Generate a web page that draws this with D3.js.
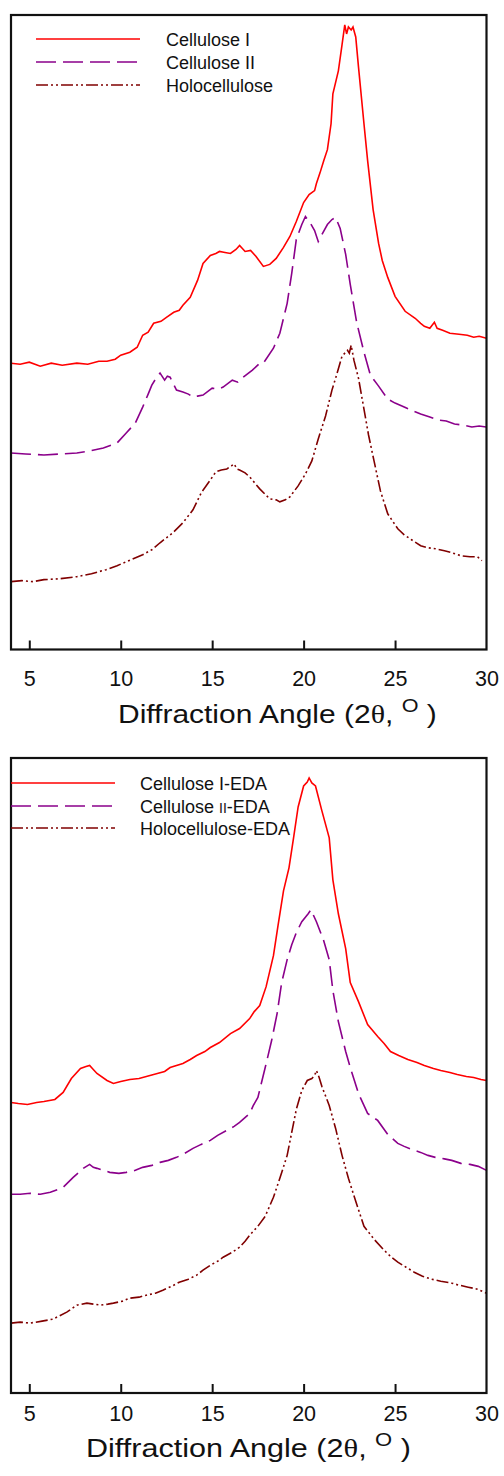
<!DOCTYPE html>
<html>
<head>
<meta charset="utf-8">
<script src="https://cdn.jsdelivr.net/npm/d3@7"></script>
<style>
  body { margin: 0; background: #fff; }
  svg { display: block; }
</style>
</head>
<body>
<div id="chart"></div>
<script>
// x ray diffraction patterns, two panels
// values are [2 theta, intensity (arb. units)]
let angleTicks = [5, 10, 15, 20, 25, 30];

let celluloseI = [[4,287],[4.5,286],[5,288],[5.6,284],[6.2,287],[6.8,285],[7.6,287],[8.2,286],[8.8,289],[9.25,289],[9.7,291],[10,295],[10.5,298],[10.9,303],[11.2,315],[11.5,318],[11.8,327],[12.2,329],[12.5,333],[12.9,338],[13.2,340],[13.4,345],[13.8,353],[14.2,370],[14.5,387],[14.9,395],[15.2,397],[15.4,399],[15.7,398],[16,397],[16.3,401],[16.5,405],[16.8,399],[17.1,400],[17.4,394],[17.8,384],[18.15,386],[18.5,392],[18.9,403],[19.25,414],[19.6,429],[20,448],[20.3,456],[20.6,460],[20.7,467],[20.9,478],[21.1,490],[21.3,501],[21.5,527],[21.6,557],[21.9,580],[22.1,606],[22.25,626],[22.35,617],[22.45,624],[22.6,621],[22.7,624],[22.85,614],[23,584],[23.3,527],[23.5,490],[23.8,441],[24.1,407],[24.3,390],[24.6,373],[25,354],[25.55,339],[26.1,332],[26.4,327],[26.6,324],[26.9,322],[27.15,328],[27.3,322],[27.6,320],[28,317],[28.5,316],[28.95,315],[29.3,313],[29.6,314],[30,312]];

let celluloseII = [[4,197],[4.8,196],[5.8,195],[6.7,196],[7.6,197],[8.3,199],[9.05,202],[9.8,207],[10.3,217],[10.8,227],[11.2,243],[11.5,256],[11.7,265],[11.9,271],[12.15,277],[12.4,270],[12.55,274],[12.7,273],[13.05,260],[13.4,258],[13.7,256],[13.95,253],[14.2,254],[14.5,255],[15,262],[15.3,261],[15.6,263],[16.1,270],[16.4,268],[16.7,273],[17.2,280],[17.6,287],[17.8,287],[18.35,302],[18.7,317],[19.1,347],[19.35,377],[19.6,411],[19.9,426],[20.1,434],[20.35,428],[20.6,420],[20.8,409],[21,416],[21.3,426],[21.55,431],[21.75,433],[22,422],[22.3,396],[22.55,366],[22.9,328],[23.3,298],[23.65,275],[24.1,264],[24.6,251],[25,247],[25.5,243],[26,239],[26.4,236],[26.9,233],[27.35,230],[27.8,229],[28.25,226],[28.7,225],[29.2,223],[29.6,224],[30,223]];

let holocellulose = [[4,68],[4.6,69],[5.2,68],[5.8,70],[6.7,71],[7.6,73],[8.4,76],[9.2,80],[9.8,84],[10.3,88],[11.2,95],[11.7,100],[12.15,107],[12.5,112],[12.85,117],[13.4,127],[13.95,140],[14.4,157],[14.9,170],[15.2,178],[15.5,180],[15.8,181],[16.05,184],[16.2,186],[16.35,181],[16.5,180],[16.8,177],[17.05,173],[17.6,161],[18.15,151],[18.5,150],[18.7,148],[19,150],[19.25,153],[19.7,164],[20.1,176],[20.45,189],[20.8,211],[21.2,234],[21.55,260],[21.8,275],[22.1,294],[22.3,298],[22.4,300],[22.5,297],[22.6,305],[22.75,290],[23,272],[23.3,241],[23.55,215],[23.85,189],[24.2,159],[24.6,136],[25.15,121],[25.5,115],[25.9,110],[26.4,104],[26.8,102],[27.2,101],[27.7,99],[28.1,97],[28.6,94],[29.1,93],[29.5,93],[29.75,89]];

let celluloseIEDA = [[4,291],[4.4,290],[4.9,289],[5.4,291],[5.8,292],[6.4,294],[6.85,301],[7.3,315],[7.8,325],[8.1,327],[8.3,328],[8.5,324],[8.7,320],[9.25,313],[9.6,310],[10,312],[10.5,314],[11,315],[11.4,317],[12,320],[12.4,322],[12.7,326],[13.4,330],[13.8,334],[14.15,338],[14.6,342],[14.9,346],[15.4,351],[16,360],[16.5,365],[17.05,375],[17.3,382],[17.6,388],[17.95,407],[18.35,438],[18.6,468],[18.9,503],[19.2,526],[19.45,556],[19.7,587],[20,608],[20.2,612],[20.3,616],[20.45,611],[20.65,608],[21,583],[21.4,556],[21.6,514],[21.9,480],[22.3,445],[22.55,411],[23,392],[23.5,369],[24.05,357],[24.4,350],[24.75,342],[25.2,338],[25.7,334],[26.2,331],[26.6,328],[27.1,325],[27.5,323],[28,321],[28.4,319],[28.9,317],[29.3,316],[29.7,314],[30,313]];

let celluloseIIEDA = [[4,199],[4.5,199],[5.05,200],[5.6,199],[6.15,201],[6.85,206],[7.4,216],[7.95,225],[8.3,229],[8.5,226],[8.7,225],[9.4,221],[9.9,220],[10.3,221],[10.8,223],[11.2,226],[11.7,228],[12.15,231],[12.6,233],[13.05,236],[13.5,240],[13.95,245],[14.4,249],[14.9,253],[15.3,258],[15.8,263],[16.2,267],[16.5,271],[17.05,280],[17.25,288],[17.5,296],[17.9,326],[18.25,353],[18.55,380],[18.8,411],[19.1,434],[19.35,449],[19.6,461],[19.9,472],[20.25,480],[20.4,484],[20.55,478],[20.7,472],[21.1,453],[21.4,434],[21.6,403],[21.9,372],[22.3,342],[22.55,326],[23,300],[23.5,280],[24.05,273],[24.6,259],[25.15,250],[25.5,247],[25.9,244],[26.4,241],[26.8,238],[27.2,236],[27.7,234.5],[28.1,233],[28.6,230],[29.1,229],[29.55,227],[30,223]];

let holocelluloseEDA = [[4,70],[4.5,71],[5.05,70],[5.7,72],[6.3,74],[7.05,81],[7.6,88],[8.15,90],[8.5,89],[8.9,88],[9.3,89],[9.6,90],[10.1,92],[10.5,95],[11,96],[11.4,98],[11.9,100],[12.3,103],[12.8,107],[13.2,111],[13.7,114],[14.15,118],[14.5,123],[14.9,128],[15.3,132],[15.6,136],[16.1,141],[16.5,146],[16.8,152],[17.05,158],[17.5,167],[17.9,177],[18.35,196],[18.7,215],[19.1,238],[19.35,261],[19.6,284],[19.9,303],[20.2,313],[20.45,315],[20.6,318],[20.7,323],[20.85,316],[21,307],[21.4,288],[21.75,265],[22.1,238],[22.45,215],[22.85,192],[23.3,167],[23.85,154],[24.4,143],[24.8,136],[25.15,131],[25.6,126],[26.05,121],[26.5,117],[27,114],[27.5,112],[28.1,110],[28.5,108],[29,106],[29.5,104],[30,100]];

let topNames = ["Cellulose I", "Cellulose II", "Holocellulose"];
let bottomNames = ["Cellulose I-EDA", "Cellulose II-EDA", "Holocellulose-EDA"];

let colors = ["#ff0000", "#8b008b", "#800000"];
let dashes = [null, "20,7", "12,3,2,3,2,3"];

let w = 504, h = 1476;
let font = "'Liberation Sans', Arial, sans-serif";

let svg = d3.select("#chart").append("svg")
    .attr("width", w)
    .attr("height", h);

function drawPanel(opt){
  let g = svg.append("g");

  let xScale = d3.scaleLinear().domain([4, 30]).range([11, 486.5]);
  let yScale = d3.scaleLinear().domain([0, 636]).range([opt.bottom, opt.top]);

  let line = d3.line()
      .x(function(d){ return xScale(d[0]); })
      .y(function(d){ return yScale(d[1]); });

  g.selectAll(".curve").data(opt.series)
    .enter()
    .append("path")
      .attr("class", "curve")
      .attr("d", function(d){ return line(d); })
      .attr("fill", "none")
      .attr("stroke", function(d, i){ return colors[i]; })
      .attr("stroke-width", 1.6)
      .attr("stroke-dasharray", function(d, i){ return dashes[i]; });

  // frame
  g.append("rect")
      .attr("x", 11)
      .attr("y", opt.top)
      .attr("width", 486.5 - 11)
      .attr("height", opt.bottom - opt.top)
      .attr("fill", "none")
      .attr("stroke", "#111")
      .attr("stroke-width", 2.2);

  let xAxis = d3.axisBottom(xScale)
      .tickValues(angleTicks)
      .tickSizeInner(-9)
      .tickSizeOuter(0)
      .tickPadding(opt.pad);

  let axisGroup = g.append("g")
      .attr("transform", "translate(0," + opt.bottom + ")")
      .call(xAxis);
  axisGroup.select(".domain").remove();
  axisGroup.selectAll(".tick line")
      .attr("stroke", "#111")
      .attr("stroke-width", 2)
      .attr("opacity", function(d){ return d == 30 ? 0 : 1; });
  axisGroup.selectAll(".tick text")
      .attr("font-family", font)
      .attr("font-size", "21.5px")
      .attr("fill", "#111");

  // legend
  let leg = g.selectAll(".legend").data(opt.names)
    .enter()
    .append("g")
      .attr("class", "legend");
  leg.append("line")
      .attr("x1", opt.legX1)
      .attr("x2", opt.legX2)
      .attr("y1", function(d, i){ return opt.legY[i]; })
      .attr("y2", function(d, i){ return opt.legY[i]; })
      .attr("stroke", function(d, i){ return colors[i]; })
      .attr("stroke-width", 1.6)
      .attr("stroke-dasharray", function(d, i){ return dashes[i]; });
  let legText = leg.append("text")
      .attr("x", opt.textX)
      .attr("y", function(d, i){ return opt.legY[i] + 6.5; })
      .attr("font-family", font)
      .attr("font-size", "18px")
      .attr("fill", "#111");
  legText.each(function(d){
    let t = d3.select(this);
    if(opt.smallII && d.indexOf("II") > -1){
      let parts = d.split("II");
      t.append("tspan").text(parts[0]);
      t.append("tspan").attr("font-size", "14px").text("II");
      t.append("tspan").text(parts[1]);
    } else {
      t.text(d);
    }
  });

  // axis title
  let title = g.append("text")
      .attr("x", opt.titleX)
      .attr("y", opt.titleY)
      .attr("font-family", font)
      .attr("font-size", "25px")
      .attr("fill", "#111");
  title.append("tspan").text("Diffraction Angle (2");
  title.append("tspan").attr("font-family", "'Liberation Serif', serif").text("\u03b8");
  title.append("tspan").text(", ");
  title.append("tspan").attr("font-size", "18px").attr("dy", -11).text("O");
  title.append("tspan").attr("dy", 11).text(" )");

  // stretch the title to the width it has in the figure
  let bw = title.node().getBBox().width;
  let s = opt.titleW / bw;
  title.attr("transform", "translate(" + opt.titleX + ",0) scale(" + s + ",1) translate(" + (-opt.titleX) + ",0)");
}

drawPanel({
  top: 15, bottom: 649.5, pad: 21,
  series: [celluloseI, celluloseII, holocellulose],
  names: topNames, smallII: false,
  legX1: 36, legX2: 140, legY: [39, 62, 85], textX: 166,
  titleX: 118, titleY: 723, titleW: 319
});

drawPanel({
  top: 758, bottom: 1393, pad: 13,
  series: [celluloseIEDA, celluloseIIEDA, holocelluloseEDA],
  names: bottomNames, smallII: true,
  legX1: 11, legX2: 115, legY: [783, 806, 828], textX: 140,
  titleX: 86, titleY: 1457, titleW: 325
});
</script>
</body>
</html>
